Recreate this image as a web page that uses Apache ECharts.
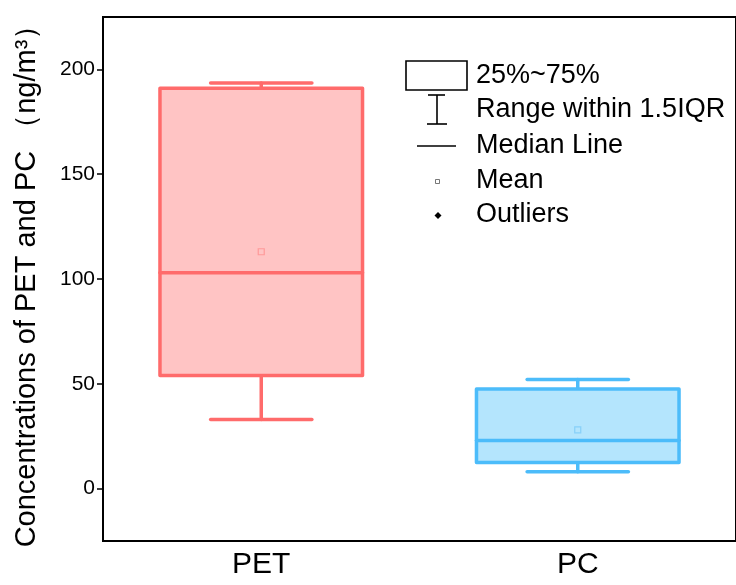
<!DOCTYPE html>
<html>
<head>
<meta charset="utf-8">
<script src="https://cdn.jsdelivr.net/npm/echarts@6/dist/echarts.min.js"></script>
<style>
  html, body { margin: 0; padding: 0; background: #fff; }
  #chart { width: 736px; height: 585px; }
</style>
</head>
<body>
<div id="chart"></div>
<script>
// data
var categories = ['PET', 'PC'];
var minVals    = [33, 8];
var q1Vals     = [54, 12.5];
var medianVals = [103, 23];
var q3Vals     = [191, 47.5];
var maxVals    = [193.5, 52];
var meanVals   = [113, 28];
var yTicks     = [0, 50, 100, 150, 200];

var strokeColors = ['#ff6b6b', '#4cbcfa'];
var fillColors   = ['#ffc4c4', '#b4e5fd'];
var meanColors   = ['#ff9090', '#7ccbf8'];

var FONT = '"Liberation Sans", Arial, sans-serif';

var boxData = categories.map(function (c, i) {
    return [i, minVals[i], q1Vals[i], medianVals[i], q3Vals[i], maxVals[i]];
});
var meanData = categories.map(function (c, i) {
    return {
        value: [i, meanVals[i]],
        itemStyle: { color: fillColors[i], borderColor: meanColors[i], borderWidth: 1.2 }
    };
});

function renderBox(params, api) {
    var i = params.dataIndex;
    var x = api.value(0);
    var pMin = api.coord([x, api.value(1)]);
    var pQ1 = api.coord([x, api.value(2)]);
    var pMed = api.coord([x, api.value(3)]);
    var pQ3 = api.coord([x, api.value(4)]);
    var pMax = api.coord([x, api.value(5)]);
    var bw = api.size([1, 0])[0] * 0.64;
    var cx = pMed[0];
    var lineStyle = { stroke: strokeColors[i], lineWidth: 3.5, lineCap: 'round' };
    return {
        type: 'group',
        children: [
            { type: 'line', shape: { x1: cx, y1: pQ1[1], x2: cx, y2: pMin[1] }, style: lineStyle },
            { type: 'line', shape: { x1: cx, y1: pQ3[1], x2: cx, y2: pMax[1] }, style: lineStyle },
            { type: 'line', shape: { x1: cx - bw / 4, y1: pMin[1], x2: cx + bw / 4, y2: pMin[1] }, style: lineStyle },
            { type: 'line', shape: { x1: cx - bw / 4, y1: pMax[1], x2: cx + bw / 4, y2: pMax[1] }, style: lineStyle },
            {
                type: 'rect',
                shape: { x: cx - bw / 2, y: pQ3[1], width: bw, height: pQ1[1] - pQ3[1] },
                style: { fill: fillColors[i], stroke: strokeColors[i], lineWidth: 3.5, lineJoin: 'round' }
            },
            { type: 'line', shape: { x1: cx - bw / 2, y1: pMed[1], x2: cx + bw / 2, y2: pMed[1] }, style: lineStyle }
        ]
    };
}

var legendX = 476;
var legendText = ['25%~75%', 'Range within 1.5IQR', 'Median Line', 'Mean', 'Outliers'];
var legendY = [76, 110, 146, 181, 215];

var graphics = [
    { type: 'rect', shape: { x: 406, y: 61, width: 61, height: 29 }, style: { fill: '#fff', stroke: '#000', lineWidth: 1.6 } },
    { type: 'line', shape: { x1: 437, y1: 95, x2: 437, y2: 124 }, style: { stroke: '#000', lineWidth: 1.6 } },
    { type: 'line', shape: { x1: 428, y1: 95, x2: 445, y2: 95 }, style: { stroke: '#000', lineWidth: 1.6 } },
    { type: 'line', shape: { x1: 427, y1: 124, x2: 447, y2: 124 }, style: { stroke: '#000', lineWidth: 1.6 } },
    { type: 'line', shape: { x1: 417, y1: 146, x2: 456, y2: 146 }, style: { stroke: '#000', lineWidth: 1.6 } },
    { type: 'rect', shape: { x: 435.5, y: 179.5, width: 4, height: 4 }, style: { fill: '#fff', stroke: '#555', lineWidth: 0.8 } },
    { type: 'polygon', shape: { points: [[438, 212], [441.5, 215.5], [438, 219], [434.5, 215.5]] }, style: { fill: '#000' } }
];
legendText.forEach(function (t, k) {
    graphics.push({
        type: 'text', x: legendX, y: legendY[k],
        style: { text: t, font: '27px ' + FONT, fill: '#000', verticalAlign: 'middle' }
    });
});

var chart = echarts.init(document.getElementById('chart'));
chart.setOption({
    animation: false,
    backgroundColor: '#fff',
    grid: {
        left: 103, top: 17, right: -5, bottom: 44,
        show: true, borderColor: '#000', borderWidth: 2
    },
    xAxis: {
        type: 'category',
        data: categories,
        axisLine: { onZero: false, lineStyle: { color: '#000', width: 2 } },
        axisTick: { alignWithLabel: true, length: 7, lineStyle: { color: '#000', width: 1.5 } },
        axisLabel: { color: '#000', fontSize: 30, fontFamily: FONT, margin: 9 },
        splitLine: { show: false }
    },
    yAxis: {
        type: 'value',
        min: -25, max: 225,
        name: 'Concentrations of PET and PC （ng/m³）',
        nameLocation: 'middle',
        nameGap: 62,
        nameTextStyle: { color: '#000', fontSize: 29, fontFamily: FONT },
        axisLine: { show: true, lineStyle: { color: '#000', width: 2 } },
        axisTick: { show: true, length: 6, customValues: yTicks, lineStyle: { color: '#000', width: 1.5 } },
        axisLabel: { color: '#000', fontSize: 21, fontFamily: FONT, margin: 8, customValues: yTicks },
        splitLine: { show: false }
    },
    series: [
        {
            type: 'custom',
            renderItem: renderBox,
            data: boxData,
            encode: { x: 0, y: [1, 2, 3, 4, 5] },
            z: 2
        },
        {
            type: 'scatter',
            symbol: 'rect',
            symbolSize: 6,
            data: meanData,
            z: 3
        }
    ],
    graphic: graphics
});
</script>
</body>
</html>
